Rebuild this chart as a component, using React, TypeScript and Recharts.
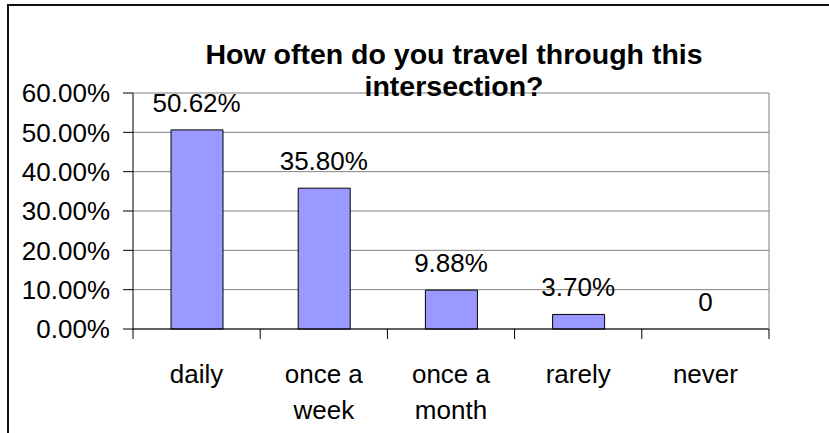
import { Bar, ComposedChart, CartesianGrid, LabelList, Line, XAxis, YAxis } from "recharts";

const categories = ["daily", "once a week", "once a month", "rarely", "never"];
const shares = [0.5062, 0.358, 0.0988, 0.037, 0];
const yTicks = [0, 0.1, 0.2, 0.3, 0.4, 0.5, 0.6];
const title = "How often do you travel through this intersection?";

const data = categories.map((name, i) => ({ name, value: shares[i] }));

const FONT = "'Liberation Sans', Arial, sans-serif";

function wrapWords(text: string, max: number) {
  const lines: string[] = [];
  let cur = "";
  for (const w of text.split(" ")) {
    if (cur && (cur + " " + w).length > max) {
      lines.push(cur);
      cur = w;
    } else {
      cur = cur ? cur + " " + w : w;
    }
  }
  if (cur) lines.push(cur);
  return lines;
}

// label at the band centre, tick marks at the band edges (Excel style)
function CategoryTick({ x, y, payload, index }: any) {
  const half = Number(payload.offset) || 0;
  const lines = wrapWords(String(payload.value), 7);
  const last = index === categories.length - 1;
  return (
    <g>
      <line x1={x - half} x2={x - half} y1={y} y2={y + 10} stroke="#000" />
      {last && <line x1={x + half} x2={x + half} y1={y} y2={y + 10} stroke="#000" />}
      <text x={x} y={y + 54} textAnchor="middle" fontSize={26} fontFamily={FONT} fill="#000">
        {lines.map((l, i) => (
          <tspan key={i} x={x} dy={i === 0 ? 0 : 36}>
            {l}
          </tspan>
        ))}
      </text>
    </g>
  );
}

const pct = (v: number) => (v === 0 ? "0" : (v * 100).toFixed(2) + "%");

export default function App() {
  return (
    <div style={{ position: "absolute", left: 0, top: 0, width: 829, height: 433, overflow: "hidden", background: "#fff" }}>
      <div
        style={{
          position: "absolute",
          left: 7,
          top: 4,
          width: 840,
          height: 460,
          borderLeft: "2px solid #111",
          borderTop: "2px solid #111",
        }}
      />
      <ComposedChart
        width={829}
        height={433}
        data={data}
        margin={{ top: 93, right: 0, bottom: 0, left: 0 }}
        style={{ position: "absolute", left: 0, top: 0 }}
      >
        <CartesianGrid vertical={false} stroke="#808080" yAxisId="left" />
        <XAxis
          dataKey="name"
          height={104}
          interval={0}
          tickSize={0}
          tickMargin={0}
          tickLine={false}
          tick={<CategoryTick />}
          axisLine={{ stroke: "#000" }}
        />
        <YAxis
          yAxisId="left"
          domain={[0, 0.6]}
          ticks={yTicks}
          width={133}
          tickSize={10}
          tickMargin={13}
          tickFormatter={(v: number) => (v * 100).toFixed(2) + "%"}
          tick={{ fontSize: 26, fontFamily: FONT, fill: "#000" }}
          axisLine={{ stroke: "#000" }}
          tickLine={{ stroke: "#000" }}
        />
        <YAxis
          yAxisId="right"
          orientation="right"
          width={60}
          tick={false}
          tickLine={false}
          axisLine={{ stroke: "#808080" }}
        />
        <Bar
          yAxisId="left"
          dataKey="value"
          fill="#9999FF"
          stroke="#000"
          strokeWidth={1}
          barSize={52}
          isAnimationActive={false}
        />
        <Line
          yAxisId="left"
          dataKey="value"
          stroke="none"
          dot={false}
          activeDot={false}
          isAnimationActive={false}
        >
          <LabelList
            dataKey="value"
            position="top"
            offset={18}
            formatter={(v: any) => pct(Number(v))}
            style={{ fontSize: 26, fontFamily: FONT, fill: "#000" }}
          />
        </Line>
      </ComposedChart>
      <div
        style={{
          position: "absolute",
          left: 194,
          top: 38,
          width: 520,
          textAlign: "center",
          fontFamily: FONT,
          fontWeight: "bold",
          fontSize: 28.5,
          lineHeight: "32px",
          color: "#000",
        }}
      >
        {wrapWords(title, 36).map((l, i) => (
          <div key={i} style={{ width: "fit-content", margin: "0 auto" }}>
            {l}
          </div>
        ))}
      </div>
    </div>
  );
}
